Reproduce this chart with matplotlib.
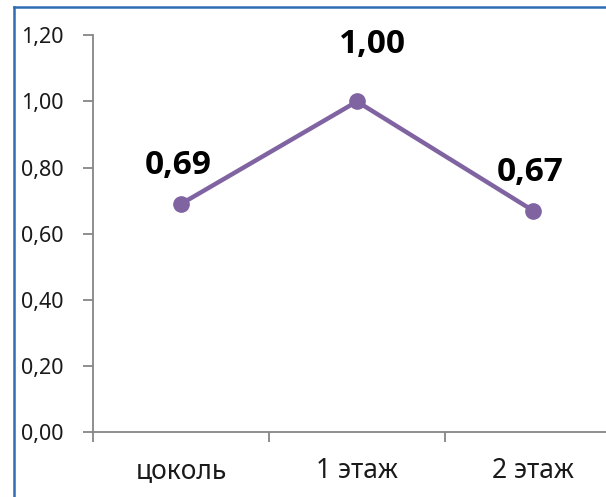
import matplotlib.pyplot as plt
from matplotlib.lines import Line2D

# --- данные ---
categories = ['цоколь', '1 этаж', '2 этаж']
values = [0.69, 1.00, 0.67]
yticks = [0.0, 0.2, 0.4, 0.6, 0.8, 1.0, 1.2]

plt.rcParams['font.family'] = ['Noto Sans', 'DejaVu Sans']

W, H = 606, 497
fig = plt.figure(figsize=(W / 100, H / 100), dpi=100)

# оси: левый край x=93, правый выходит за рамку (x=621), y от 35 до 432
ax = fig.add_axes([93 / W, 1 - 432 / H, (621 - 93) / W, (432 - 35.4) / H])

x = list(range(len(categories)))
ax.plot(x, values, color='#8064A2', linewidth=3.2, marker='o', markersize=11,
        markerfacecolor='#8064A2', markeredgecolor='#8064A2', clip_on=False, zorder=3)

ax.set_xlim(-0.5, len(categories) - 0.5)
ax.set_ylim(0, 1.2)

ax.set_yticks(yticks)
ax.set_yticklabels([f'{v:.2f}'.replace('.', ',') for v in yticks])
ax.set_xticks(x)
ax.set_xticklabels(categories)
ax.set_xticks([i - 0.5 for i in range(len(categories) + 1)], minor=True)

for s in ['top', 'right']:
    ax.spines[s].set_visible(False)
for s in ['left', 'bottom']:
    ax.spines[s].set_color('#868686')
    ax.spines[s].set_linewidth(1.3)

ax.tick_params(axis='y', direction='out', length=7, width=1.3, color='#868686',
               labelsize=15.5, labelcolor='#1a1a1a', pad=14)
ax.tick_params(axis='x', which='major', length=0, labelsize=19, labelcolor='#1a1a1a', pad=18)
ax.tick_params(axis='x', which='minor', direction='out', length=7, width=1.3, color='#868686')

# подписи значений (жирные)
offsets = [(-3, 22), (15, 40), (-3, 22)]
for xi, v, off in zip(x, values, offsets):
    ax.annotate(f'{v:.2f}'.replace('.', ','), (xi, v), xytext=off, textcoords='offset pixels',
                ha='center', va='bottom', fontsize=24, fontweight='bold', color='black',
                family=['Open Sans', 'Liberation Sans', 'DejaVu Sans'])

# синяя рамка сверху и слева
fig.add_artist(Line2D([13.5 / W, 13.5 / W], [0, 1 - 7 / H], color='#2E6DB4', linewidth=1.8))
fig.add_artist(Line2D([13.5 / W, 1], [1 - 7 / H, 1 - 7 / H], color='#2E6DB4', linewidth=1.8))

fig.savefig('out.png', dpi=100)
